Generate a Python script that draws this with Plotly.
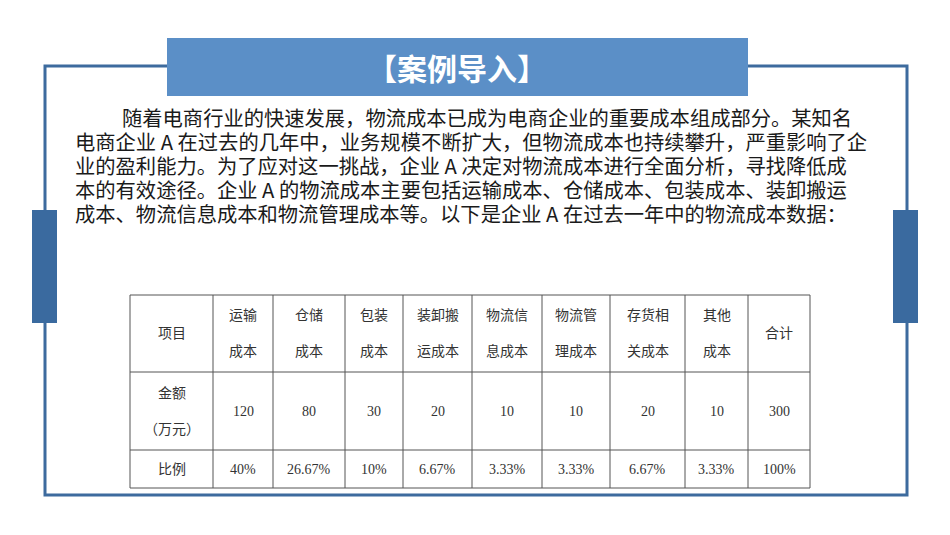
import plotly.graph_objects as go

# table data
items = ["运输<br>成本", "仓储<br>成本", "包装<br>成本", "装卸搬<br>运成本", "物流信<br>息成本",
         "物流管<br>理成本", "存货相<br>关成本", "其他<br>成本", "合计"]
amounts = [120, 80, 30, 20, 10, 10, 20, 10, 300]
ratios = ["40%", "26.67%", "10%", "6.67%", "3.33%", "3.33%", "6.67%", "3.33%", "100%"]

title = "【案例导入】"
para = [
    "随着电商行业的快速发展，物流成本已成为电商企业的重要成本组成部分。某知名",
    "电商企业 A 在过去的几年中，业务规模不断扩大，但物流成本也持续攀升，严重影响了企",
    "业的盈利能力。为了应对这一挑战，企业 A 决定对物流成本进行全面分析，寻找降低成",
    "本的有效途径。企业 A 的物流成本主要包括运输成本、仓储成本、包装成本、装卸搬运",
    "成本、物流信息成本和物流管理成本等。以下是企业 A 在过去一年中的物流成本数据：",
]

col_x = [130, 213, 273, 345, 403, 472, 542, 610, 685, 748, 810]
row_y = [295, 372, 450, 488]

fig = go.Figure()
shapes = []
ann = []

# frame and decorations
shapes.append(dict(type="rect", x0=45, y0=66, x1=907, y1=495, line=dict(color="#3d6b9e", width=3)))
shapes.append(dict(type="rect", x0=32, y0=210, x1=57, y1=323, fillcolor="#3a6a9f", line_width=0))
shapes.append(dict(type="rect", x0=893, y0=210, x1=918, y1=323, fillcolor="#3a6a9f", line_width=0))
shapes.append(dict(type="rect", x0=167, y0=38, x1=748, y1=96, fillcolor="#5b8fc7", line_width=0))
ann.append(dict(x=457, y=67, text="<b>" + title + "</b>", showarrow=False,
                font=dict(size=30, color="white", family="Noto Sans CJK SC")))

# paragraph
for i, line in enumerate(para):
    ann.append(dict(x=120 if i == 0 else 73, y=117 + 24 * i, text=line, showarrow=False, xanchor="left",
                    font=dict(size=20.3, color="#1a1a1a", family="Noto Sans CJK SC")))

# table grid
for x in col_x:
    shapes.append(dict(type="line", x0=x, x1=x, y0=row_y[0], y1=row_y[-1], line=dict(color="#555", width=1)))
for y in row_y:
    shapes.append(dict(type="line", x0=col_x[0], x1=col_x[-1], y0=y, y1=y, line=dict(color="#555", width=1)))

tfont = dict(size=14, color="#333", family="Liberation Serif, Noto Sans CJK SC")
mid = lambda i: (col_x[i] + col_x[i + 1]) / 2
ann.append(dict(x=mid(0), y=333, text="项目", showarrow=False, font=tfont))
ann.append(dict(x=mid(0), y=411, text="金额<br><br>（万元）", showarrow=False, font=tfont))
ann.append(dict(x=mid(0), y=469, text="比例", showarrow=False, font=tfont))
for i in range(len(items)):
    t = items[i].replace("<br>", "<br><br>") if "<br>" in items[i] else items[i]
    ann.append(dict(x=mid(i + 1), y=333, text=t, showarrow=False, font=tfont))
    ann.append(dict(x=mid(i + 1), y=411, text=str(amounts[i]), showarrow=False, font=tfont))
    ann.append(dict(x=mid(i + 1), y=469, text=ratios[i], showarrow=False, font=tfont))

# page has an 8px body margin, so shift the axis window to line up with the reference
fig.update_layout(
    width=950, height=535, margin=dict(l=0, r=0, t=0, b=0),
    plot_bgcolor="white", paper_bgcolor="white",
    xaxis=dict(range=[8, 958], visible=False, fixedrange=True),
    yaxis=dict(range=[543, 8], visible=False, fixedrange=True),
    shapes=shapes, annotations=ann, showlegend=False,
)
fig.write_html("out.html")
